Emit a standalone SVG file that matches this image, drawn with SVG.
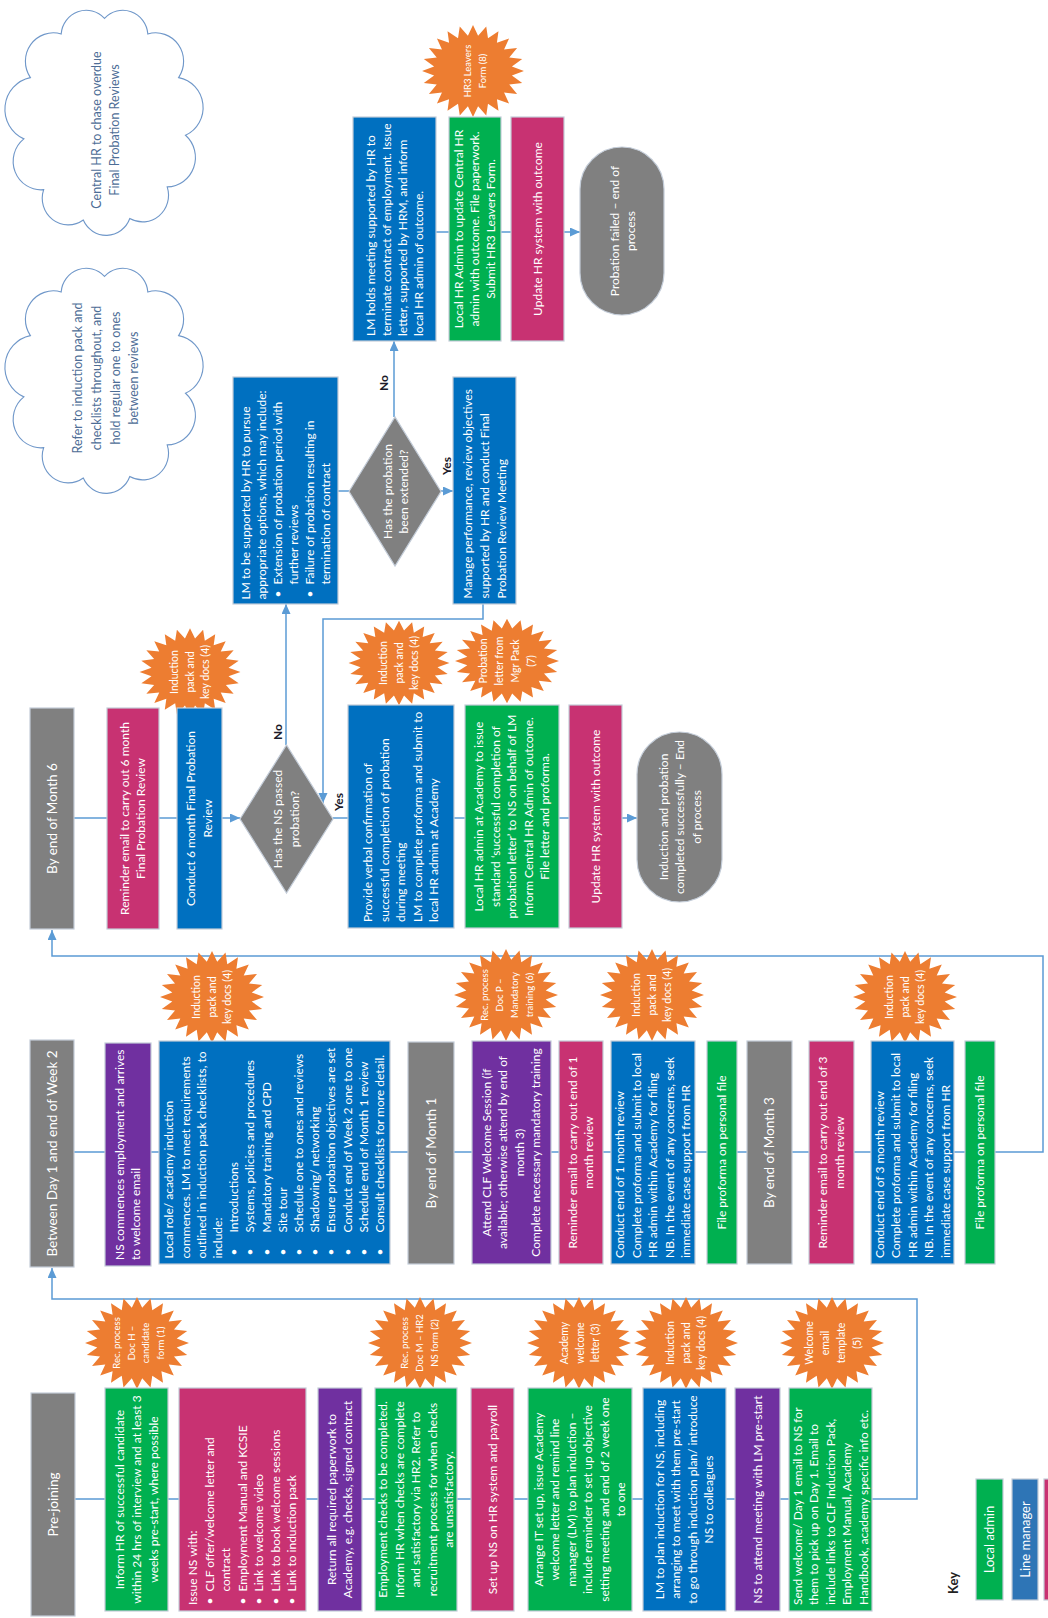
<svg xmlns="http://www.w3.org/2000/svg" width="1048" height="1618" viewBox="0 0 1048 1618">
<style>
.bx{stroke:#c3ccd8;stroke-width:1.2}
.gr{fill:#00b050}.pk{fill:#c83272}.pu{fill:#7030a0}.bl{fill:#0070c0}.gy{fill:#808080}.lb2{fill:#2e75b6}
.t{font-family:Lato,'Open Sans',sans-serif;font-size:12px;fill:#fff}
.m{text-anchor:middle}
.h{font-size:13.5px}
.s{font-size:10.5px}
.xs{font-size:9.5px}
.cl{font-family:Lato,'Open Sans',sans-serif;font-size:12.5px;fill:#4d6d96;text-anchor:middle}
.lab{font-family:Lato,'Open Sans',sans-serif;font-size:12px;font-weight:bold;fill:#1b1b2a;text-anchor:middle}
.cn{fill:none;stroke:#5b9bd5;stroke-width:1.5}
.star{fill:#ed7d31}
.cloud{fill:#fff;stroke:#6f97c9;stroke-width:1.2}
</style>
<defs>
<marker id="ar" markerUnits="userSpaceOnUse" markerWidth="11" markerHeight="10" refX="10" refY="4.5" orient="auto"><path d="M0,0 L10,4.5 L0,9 Z" fill="#5b9bd5"/></marker>
<path id="st" d="M52,0 L39.7,4.6 L50.2,11.9 L37,13.6 L45,23 L31.7,21.6 L36.8,32.5 L24.4,28.2 L26,39.8 L15.3,32.8 L13.5,44.4 L5.2,35.2 L0,46 L-5.2,35.2 L-13.5,44.4 L-15.3,32.8 L-26,39.8 L-24.4,28.2 L-36.8,32.5 L-31.7,21.6 L-45,23 L-37,13.6 L-50.2,11.9 L-39.7,4.6 L-52,0 L-39.7,-4.6 L-50.2,-11.9 L-37,-13.6 L-45,-23 L-31.7,-21.6 L-36.8,-32.5 L-24.4,-28.2 L-26,-39.8 L-15.3,-32.8 L-13.5,-44.4 L-5.2,-35.2 L0,-46 L5.2,-35.2 L13.5,-44.4 L15.3,-32.8 L26,-39.8 L24.4,-28.2 L36.8,-32.5 L31.7,-21.6 L45,-23 L37,-13.6 L50.2,-11.9 L39.7,-4.6 Z"/>
<path id="cloud" d="M0,-108 A27,27 0 0 1 46.6,-91.6 A30,30 0 0 1 79.7,-45.7 A32,32 0 0 1 87.1,15 A31,31 0 0 1 67.4,69.4 A28,28 0 0 1 27.2,102.7 A27,27 0 0 1 -22.8,104.3 A28,28 0 0 1 -65.4,72.3 A30,30 0 0 1 -86.7,18.8 A34,34 0 0 1 -79.7,-45.7 A30,30 0 0 1 -46.6,-91.6 A27,27 0 0 1 0,-108 Z"/>
</defs>
<rect width="1048" height="1618" fill="#fff"/>

<g id="connectors">
<path class="cn" d="M75,1499 H917 V1299 H52 V1268" marker-end="url(#ar)"/>
<path class="cn" d="M74,1152 H1043 V956 H52 V930" marker-end="url(#ar)"/>
<path class="cn" d="M74,818 H240" marker-end="url(#ar)"/>
<path class="cn" d="M333,818 H637" marker-end="url(#ar)"/>
<path class="cn" d="M286,745 V604" marker-end="url(#ar)"/>
<path class="cn" d="M483,604 V619 H323 V803" marker-end="url(#ar)"/>
<path class="cn" d="M338,491 H349"/>
<path class="cn" d="M441,491 H453" marker-end="url(#ar)"/>
<path class="cn" d="M394,417 V341" marker-end="url(#ar)"/>
<path class="cn" d="M436,232 H580" marker-end="url(#ar)"/>
</g>

<g id="clouds">
<g id="cloud-chase"><use href="#cloud" class="cloud" transform="translate(104.5,121) scale(0.93,0.95)" style="vector-effect:non-scaling-stroke"/>
<text class="cl" transform="translate(105,130) rotate(-90)"><tspan x="0" y="-4.5">Central HR to chase overdue</tspan><tspan x="0" y="14.2">Final Probation Reviews</tspan></text></g>
<g id="cloud-refer"><use href="#cloud" class="cloud" transform="translate(104.5,379) scale(0.93,0.95)"/>
<text class="cl" transform="translate(106,378) rotate(-90)"><tspan x="0" y="-23.7">Refer to induction pack and</tspan><tspan x="0" y="-5">checklists throughout, and</tspan><tspan x="0" y="13.7">hold regular one to ones</tspan><tspan x="0" y="32.4">between reviews</tspan></text></g>
</g>

<g id="stars">
<g id="doc1"><use href="#st" class="star" transform="translate(137,1343)"/><text class="t xs m" transform="translate(138.5,1343) rotate(-90)"><tspan x="0" y="-18.4">Rec. process</tspan><tspan x="0" y="-3.9">Doc H –</tspan><tspan x="0" y="10.6">candidate</tspan><tspan x="0" y="25.1">form (1)</tspan></text></g>
<g id="doc2"><use href="#st" class="star" transform="translate(420,1343)"/><text class="t xs m" transform="translate(420,1343) rotate(-90)"><tspan x="0" y="-11.7">Rec. process</tspan><tspan x="0" y="3.3">Doc M – HR2</tspan><tspan x="0" y="18.3">NS form (2)</tspan></text></g>
<g id="doc3"><use href="#st" class="star" transform="translate(579,1343)"/><text class="t s m" transform="translate(580,1343) rotate(-90)"><tspan x="0" y="-11.6">Academy</tspan><tspan x="0" y="3.7">welcome</tspan><tspan x="0" y="19">letter (3)</tspan></text></g>
<g id="doc4a"><use href="#st" class="star" transform="translate(686,1343)"/><text class="t s m" transform="translate(686,1343) rotate(-90)"><tspan x="0" y="-11.6">Induction</tspan><tspan x="0" y="3.7">pack and</tspan><tspan x="0" y="19">key docs (4)</tspan></text></g>
<g id="doc5"><use href="#st" class="star" transform="translate(832,1343)"/><text class="t s m" transform="translate(833,1343) rotate(-90)"><tspan x="0" y="-20.3">Welcome</tspan><tspan x="0" y="-4.3">email</tspan><tspan x="0" y="11.7">template</tspan><tspan x="0" y="27.7">(5)</tspan></text></g>
<g id="doc4b"><use href="#st" class="star" transform="translate(212,997)"/><text class="t s m" transform="translate(212,997) rotate(-90)"><tspan x="0" y="-11.6">Induction</tspan><tspan x="0" y="3.7">pack and</tspan><tspan x="0" y="19">key docs (4)</tspan></text></g>
<g id="doc6"><use href="#st" class="star" transform="translate(506,995)"/><text class="t xs m" transform="translate(507,995) rotate(-90)"><tspan x="0" y="-19.2">Rec. process</tspan><tspan x="0" y="-4.2">Doc P –</tspan><tspan x="0" y="10.8">Mandatory</tspan><tspan x="0" y="25.8">training (6)</tspan></text></g>
<g id="doc4c"><use href="#st" class="star" transform="translate(652,995)"/><text class="t s m" transform="translate(652,995) rotate(-90)"><tspan x="0" y="-11.6">Induction</tspan><tspan x="0" y="3.7">pack and</tspan><tspan x="0" y="19">key docs (4)</tspan></text></g>
<g id="doc4d"><use href="#st" class="star" transform="translate(905,997)"/><text class="t s m" transform="translate(905,997) rotate(-90)"><tspan x="0" y="-11.6">Induction</tspan><tspan x="0" y="3.7">pack and</tspan><tspan x="0" y="19">key docs (4)</tspan></text></g>
<g id="doc4e"><use href="#st" class="star" transform="translate(190,672) scale(0.97,0.95)"/><text class="t s m" transform="translate(190,672) rotate(-90)"><tspan x="0" y="-11.6">Induction</tspan><tspan x="0" y="3.7">pack and</tspan><tspan x="0" y="19">key docs (4)</tspan></text></g>
<g id="doc4f"><use href="#st" class="star" transform="translate(399,663) scale(0.97,0.92)"/><text class="t s m" transform="translate(399,663) rotate(-90)"><tspan x="0" y="-11.6">Induction</tspan><tspan x="0" y="3.7">pack and</tspan><tspan x="0" y="19">key docs (4)</tspan></text></g>
<g id="doc7"><use href="#st" class="star" transform="translate(507,661) scale(1,0.92)"/><text class="t s m" transform="translate(507,661) rotate(-90)"><tspan x="0" y="-20.3">Probation</tspan><tspan x="0" y="-4.3">letter from</tspan><tspan x="0" y="11.7">Mgr Pack</tspan><tspan x="0" y="27.7">(7)</tspan></text></g>
<g id="doc8"><use href="#st" class="star" transform="translate(473,71) scale(0.98,1)"/><text class="t xs m" transform="translate(475,71) rotate(-90)"><tspan x="0" y="-4.2">HR3 Leavers</tspan><tspan x="0" y="10.8">Form (8)</tspan></text></g>
</g>

<g id="n-prejoining"><rect class="bx gy" x="31" y="1393" width="44" height="223"/><text class="t h m" transform="translate(53,1504.5) rotate(-90)"><tspan x="0" y="4.8">Pre-joining</tspan></text></g>
<g id="n-informhr"><rect class="bx gr" x="105" y="1388" width="63" height="223"/><text class="t m" transform="translate(136.5,1499.5) rotate(-90)"><tspan x="0" y="-12.8">Inform HR of successful candidate</tspan><tspan x="0" y="4.2">within 24 hrs of interview and at least 3</tspan><tspan x="0" y="21.2">weeks pre-start, where possible</tspan></text></g>
<g id="n-issuens"><rect class="bx pk" x="179" y="1388" width="127" height="223"/><text class="t" transform="translate(242.5,1499.5) rotate(-90)"><tspan x="-105.5" y="-45.3">Issue NS with:</tspan><tspan x="-105" y="-28.8">•</tspan><tspan x="-92" y="-28.8">CLF offer/welcome letter and</tspan><tspan x="-92" y="-12.3">contract</tspan><tspan x="-105" y="4.2">•</tspan><tspan x="-92" y="4.2">Employment Manual and KCSIE</tspan><tspan x="-105" y="20.7">•</tspan><tspan x="-92" y="20.7">Link to welcome video</tspan><tspan x="-105" y="37.2">•</tspan><tspan x="-92" y="37.2">Link to book welcome sessions</tspan><tspan x="-105" y="53.7">•</tspan><tspan x="-92" y="53.7">Link to induction pack</tspan></text></g>
<g id="n-return"><rect class="bx pu" x="318" y="1388" width="44" height="223"/><text class="t m" transform="translate(340,1499.5) rotate(-90)"><tspan x="0" y="-4.05">Return all required paperwork to</tspan><tspan x="0" y="12.45">Academy, e.g. checks, signed contract</tspan></text></g>
<g id="n-checks"><rect class="bx gr" x="375" y="1388" width="82" height="223"/><text class="t m" transform="translate(416,1499.5) rotate(-90)"><tspan x="0" y="-28.8">Employment checks to be completed.</tspan><tspan x="0" y="-12.3">Inform HR when checks are complete</tspan><tspan x="0" y="4.2">and satisfactory via HR2. Refer to</tspan><tspan x="0" y="20.7">recruitment process for when checks</tspan><tspan x="0" y="37.2">are unsatisfactory.</tspan></text></g>
<g id="n-setup"><rect class="bx pk" x="471" y="1388" width="43" height="223"/><text class="t m" transform="translate(492.5,1499.5) rotate(-90)"><tspan x="0" y="4.2">Set up NS on HR system and payroll</tspan></text></g>
<g id="n-arrange"><rect class="bx gr" x="528" y="1388" width="104" height="223"/><text class="t m" transform="translate(580,1499.5) rotate(-90)"><tspan x="0" y="-37.05">Arrange IT set up, issue Academy</tspan><tspan x="0" y="-20.55">welcome letter and remind line</tspan><tspan x="0" y="-4.05">manager (LM) to plan induction –</tspan><tspan x="0" y="12.45">include reminder to set up objective</tspan><tspan x="0" y="28.95">setting meeting and end of 2 week one</tspan><tspan x="0" y="45.45">to one</tspan></text></g>
<g id="n-lmplan"><rect class="bx bl" x="643" y="1388" width="83" height="223"/><text class="t m" transform="translate(684.5,1499.5) rotate(-90)"><tspan x="0" y="-20.55">LM to plan induction for NS, including</tspan><tspan x="0" y="-4.05">arranging to meet with them pre-start</tspan><tspan x="0" y="12.45">to go through induction plan/ introduce</tspan><tspan x="0" y="28.95">NS to colleagues</tspan></text></g>
<g id="n-attend"><rect class="bx pu" x="735" y="1388" width="45" height="223"/><text class="t m" transform="translate(757.5,1499.5) rotate(-90)"><tspan x="0" y="4.2">NS to attend meeting with LM pre-start</tspan></text></g>
<g id="n-welcome"><rect class="bx gr" x="789" y="1388" width="83" height="223"/><text class="t" transform="translate(830.5,1499.5) rotate(-90)"><tspan x="-105.5" y="-28.8">Send welcome/ Day 1 email to NS for</tspan><tspan x="-105.5" y="-12.3">them to pick up on Day 1. Email to</tspan><tspan x="-105.5" y="4.2">include links to CLF Induction Pack,</tspan><tspan x="-105.5" y="20.7">Employment Manual, Academy</tspan><tspan x="-105.5" y="37.2">Handbook, academy specific info etc.</tspan></text></g>

<g id="n-week2"><rect class="bx gy" x="30" y="1040" width="44" height="227"/><text class="t h m" transform="translate(52,1153.5) rotate(-90)"><tspan x="0" y="4.8">Between Day 1 and end of Week 2</tspan></text></g>
<g id="n-commences"><rect class="bx pu" x="105" y="1043" width="46" height="223"/><text class="t" transform="translate(128,1154.5) rotate(-90)"><tspan x="-105.5" y="-4.05">NS commences employment and arrives</tspan><tspan x="-105.5" y="12.45">to welcome email</tspan></text></g>
<g id="n-localrole"><rect class="bx bl" x="159" y="1041" width="231" height="223"/><text class="t" transform="translate(274.5,1152.5) rotate(-90)"><tspan x="-106" y="-101.1">Local role/ academy induction</tspan><tspan x="-106" y="-84.9">commences. LM to meet requirements</tspan><tspan x="-106" y="-68.7">outlined in induction pack checklists, to</tspan><tspan x="-106" y="-52.5">include:</tspan><tspan x="-103" y="-36.3">•</tspan><tspan x="-80" y="-36.3">Introductions</tspan><tspan x="-103" y="-20.1">•</tspan><tspan x="-80" y="-20.1">Systems, policies and procedures</tspan><tspan x="-103" y="-3.9">•</tspan><tspan x="-80" y="-3.9">Mandatory training and CPD</tspan><tspan x="-103" y="12.3">•</tspan><tspan x="-80" y="12.3">Site tour</tspan><tspan x="-103" y="28.5">•</tspan><tspan x="-80" y="28.5">Schedule one to ones and reviews</tspan><tspan x="-103" y="44.7">•</tspan><tspan x="-80" y="44.7">Shadowing/ networking</tspan><tspan x="-103" y="60.9">•</tspan><tspan x="-80" y="60.9">Ensure probation objectives are set</tspan><tspan x="-103" y="77.1">•</tspan><tspan x="-80" y="77.1">Conduct end of Week 2 one to one</tspan><tspan x="-103" y="93.3">•</tspan><tspan x="-80" y="93.3">Schedule end of Month 1 review</tspan><tspan x="-103" y="109.5">•</tspan><tspan x="-80" y="109.5">Consult checklists for more detail.</tspan></text></g>
<g id="n-month1"><rect class="bx gy" x="408" y="1042" width="46" height="222"/><text class="t h m" transform="translate(431,1153) rotate(-90)"><tspan x="0" y="4.8">By end of Month 1</tspan></text></g>
<g id="n-clf"><rect class="bx pu" x="472" y="1041" width="79" height="223"/><text class="t m" transform="translate(511.5,1152.5) rotate(-90)"><tspan x="0" y="-20.55">Attend CLF Welcome Session (if</tspan><tspan x="0" y="-4.05">available; otherwise attend by end of</tspan><tspan x="0" y="12.45">month 3)</tspan><tspan x="0" y="28.95">Complete necessary mandatory training</tspan></text></g>
<g id="n-remind1"><rect class="bx pk" x="559" y="1041" width="44" height="223"/><text class="t m" transform="translate(581,1152.5) rotate(-90)"><tspan x="0" y="-4.05">Reminder email to carry out end of 1</tspan><tspan x="0" y="12.45">month review</tspan></text></g>
<g id="n-review1"><rect class="bx bl" x="611" y="1041" width="84" height="223"/><text class="t" transform="translate(653,1152.5) rotate(-90)"><tspan x="-105.5" y="-28.8">Conduct end of 1 month review</tspan><tspan x="-105.5" y="-12.3">Complete proforma and submit to local</tspan><tspan x="-105.5" y="4.2">HR admin within Academy for filing</tspan><tspan x="-105.5" y="20.7">NB. In the event of any concerns, seek</tspan><tspan x="-105.5" y="37.2">immediate case support from HR</tspan></text></g>
<g id="n-file1"><rect class="bx gr" x="707" y="1041" width="30" height="223"/><text class="t m" transform="translate(722,1152.5) rotate(-90)"><tspan x="0" y="4.2">File proforma on personal file</tspan></text></g>
<g id="n-month3"><rect class="bx gy" x="747" y="1041" width="45" height="223"/><text class="t h m" transform="translate(769.5,1152.5) rotate(-90)"><tspan x="0" y="4.8">By end of Month 3</tspan></text></g>
<g id="n-remind3"><rect class="bx pk" x="809" y="1041" width="45" height="223"/><text class="t m" transform="translate(831.5,1152.5) rotate(-90)"><tspan x="0" y="-4.05">Reminder email to carry out end of 3</tspan><tspan x="0" y="12.45">month review</tspan></text></g>
<g id="n-review3"><rect class="bx bl" x="871" y="1041" width="83" height="223"/><text class="t" transform="translate(912.5,1152.5) rotate(-90)"><tspan x="-105.5" y="-28.8">Conduct end of 3 month review</tspan><tspan x="-105.5" y="-12.3">Complete proforma and submit to local</tspan><tspan x="-105.5" y="4.2">HR admin within Academy for filing</tspan><tspan x="-105.5" y="20.7">NB. In the event of any concerns, seek</tspan><tspan x="-105.5" y="37.2">immediate case support from HR</tspan></text></g>
<g id="n-file3"><rect class="bx gr" x="965" y="1041" width="30" height="223"/><text class="t m" transform="translate(980,1152.5) rotate(-90)"><tspan x="0" y="4.2">File proforma on personal file</tspan></text></g>

<g id="n-month6"><rect class="bx gy" x="30" y="708" width="44" height="221"/><text class="t h m" transform="translate(52,818.5) rotate(-90)"><tspan x="0" y="4.8">By end of Month 6</tspan></text></g>
<g id="n-remind6"><rect class="bx pk" x="107" y="708" width="52" height="221"/><text class="t m" transform="translate(133,818.5) rotate(-90)"><tspan x="0" y="-4.05">Reminder email to carry out 6 month</tspan><tspan x="0" y="12.45">Final Probation Review</tspan></text></g>
<g id="n-review6"><rect class="bx bl" x="177" y="708" width="45" height="221"/><text class="t m" transform="translate(199.5,818.5) rotate(-90)"><tspan x="0" y="-4.05">Conduct 6 month Final Probation</tspan><tspan x="0" y="12.45">Review</tspan></text></g>
<g id="n-passed"><polygon class="bx gy" points="240,819 286.5,745 333,819 286.5,893"/><text class="t m" transform="translate(286.5,819) rotate(-90)"><tspan x="0" y="-4.05">Has the NS passed</tspan><tspan x="0" y="12.45">probation?</tspan></text></g>
<g id="n-verbal"><rect class="bx bl" x="348" y="705" width="106" height="223"/><text class="t" transform="translate(401,816.5) rotate(-90)"><tspan x="-105.5" y="-28.8">Provide verbal confirmation of</tspan><tspan x="-105.5" y="-12.3">successful completion of probation</tspan><tspan x="-105.5" y="4.2">during meeting</tspan><tspan x="-105.5" y="20.7">LM to complete proforma and submit to</tspan><tspan x="-105.5" y="37.2">local HR admin at Academy</tspan></text></g>
<g id="n-letter"><rect class="bx gr" x="465" y="705" width="94" height="223"/><text class="t m" transform="translate(512,816.5) rotate(-90)"><tspan x="0" y="-28.8">Local HR admin at Academy to issue</tspan><tspan x="0" y="-12.3">standard ‘successful completion of</tspan><tspan x="0" y="4.2">probation letter’ to NS on behalf of LM</tspan><tspan x="0" y="20.7">Inform Central HR Admin of outcome.</tspan><tspan x="0" y="37.2">File letter and proforma.</tspan></text></g>
<g id="n-update1"><rect class="bx pk" x="569" y="705" width="53" height="223"/><text class="t m" transform="translate(595.5,816.5) rotate(-90)"><tspan x="0" y="4.2">Update HR system with outcome</tspan></text></g>
<g id="n-success"><rect class="bx gy" x="637" y="732" width="85" height="170" rx="42.5" ry="42.5"/><text class="t m" transform="translate(680,817) rotate(-90)"><tspan x="0" y="-12.3">Induction and probation</tspan><tspan x="0" y="4.2">completed successfully – End</tspan><tspan x="0" y="20.7">of process</tspan></text></g>

<g id="n-options"><rect class="bx bl" x="233" y="377" width="105" height="227"/><text class="t" transform="translate(285.5,490.5) rotate(-90)"><tspan x="-109" y="-35.8">LM to be supported by HR to pursue</tspan><tspan x="-109" y="-19.8">appropriate options, which may include:</tspan><tspan x="-107" y="-3.8">•</tspan><tspan x="-94" y="-3.8">Extension of probation period with</tspan><tspan x="-94" y="12.2">further reviews</tspan><tspan x="-107" y="28.2">•</tspan><tspan x="-94" y="28.2">Failure of probation resulting in</tspan><tspan x="-94" y="44.2">termination of contract</tspan></text></g>
<g id="n-extended"><polygon class="bx gy" points="349,491.5 395,417 441,491.5 395,566"/><text class="t m" transform="translate(396,491.5) rotate(-90)"><tspan x="0" y="-4.05">Has the probation</tspan><tspan x="0" y="12.45">been extended?</tspan></text></g>
<g id="n-manage"><rect class="bx bl" x="453" y="377" width="63" height="227"/><text class="t" transform="translate(484.5,490.5) rotate(-90)"><tspan x="-108" y="-12.8">Manage performance, review objectives</tspan><tspan x="-108" y="4.2">supported by HR and conduct Final</tspan><tspan x="-108" y="21.2">Probation Review Meeting</tspan></text></g>
<g id="n-terminate"><rect class="bx bl" x="353" y="117" width="83" height="224"/><text class="t" transform="translate(394.5,229) rotate(-90)"><tspan x="-107" y="-19.8">LM holds meeting supported by HR to</tspan><tspan x="-107" y="-3.8">terminate contract of employment.  Issue</tspan><tspan x="-107" y="12.2">letter, supported by HRM, and inform</tspan><tspan x="-107" y="28.2">local HR admin of outcome.</tspan></text></g>
<g id="n-leavers"><rect class="bx gr" x="449" y="117" width="52" height="224"/><text class="t m" transform="translate(475,229) rotate(-90)"><tspan x="0" y="-11.8">Local HR Admin to update Central HR</tspan><tspan x="0" y="4.2">admin with outcome.  File paperwork.</tspan><tspan x="0" y="20.2">Submit HR3 Leavers Form.</tspan></text></g>
<g id="n-update2"><rect class="bx pk" x="511" y="117" width="53" height="224"/><text class="t m" transform="translate(537.5,229) rotate(-90)"><tspan x="0" y="4.2">Update HR system with outcome</tspan></text></g>
<g id="n-failed"><rect class="bx gy" x="580" y="147" width="84" height="168" rx="42" ry="42"/><text class="t m" transform="translate(623,231) rotate(-90)"><tspan x="0" y="-4.05">Probation failed – end of</tspan><tspan x="0" y="12.45">process</tspan></text></g>

<g id="labels">
<text class="lab" transform="translate(278,732) rotate(-90)" y="4">No</text>
<text class="lab" transform="translate(339,802) rotate(-90)" y="4">Yes</text>
<text class="lab" transform="translate(384,383) rotate(-90)" y="4">No</text>
<text class="lab" transform="translate(447,466) rotate(-90)" y="4">Yes</text>
</g>

<g id="key">
<text class="lab" style="font-size:13px;fill:#222" transform="translate(953,1583) rotate(-90)" y="4.5">Key</text>
<g id="key-local"><rect class="bx gr" x="976" y="1479" width="27" height="121"/><text class="t m" style="font-size:13px" transform="translate(989.5,1539.5) rotate(-90)"><tspan x="0" y="4.5">Local admin</tspan></text></g>
<g id="key-lm"><rect class="bx lb2" x="1012" y="1479" width="26" height="121"/><text class="t m" style="font-size:13px" transform="translate(1025,1539.5) rotate(-90)"><tspan x="0" y="4.5">Line manager</tspan></text></g>
<g id="key-pink"><rect class="bx pk" x="1044" y="1479" width="30" height="121"/></g>
</g>
</svg>
